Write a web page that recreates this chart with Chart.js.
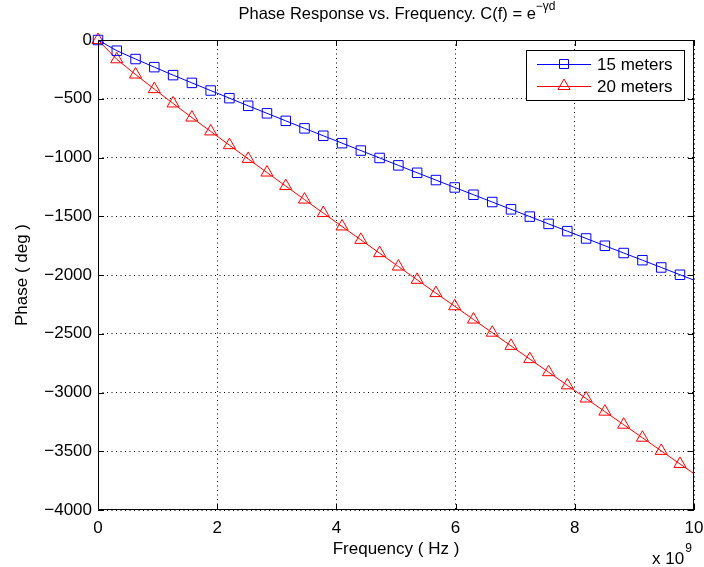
<!DOCTYPE html>
<html lang="en">
<head>
    <meta charset="UTF-8">
    <title>Phase Response vs. Frequency</title>
    <style>
        html, body { margin: 0; padding: 0; background: #fff; }
        #wrap { width: 704px; height: 567px; }
    </style>
    <script src="https://cdn.jsdelivr.net/npm/chart.js"></script>
</head>
<body>
    <div id="wrap"><canvas id="phaseChart" width="704" height="567"></canvas></div>

    <script>
        // frequency in units of 1e9 Hz (marker positions + end of sweep)
        const freq = [0, 0.315, 0.63, 0.945, 1.26, 1.575, 1.89, 2.205, 2.52, 2.835,
            3.15, 3.465, 3.78, 4.095, 4.41, 4.725, 5.04, 5.355, 5.67, 5.985,
            6.3, 6.615, 6.93, 7.245, 7.56, 7.875, 8.19, 8.505, 8.82, 9.135,
            9.45, 9.765, 10];
        const phase15 = [0, -91, -162, -231, -299, -365, -430, -495, -560, -624,
            -688, -752, -815, -878, -941, -1004, -1067, -1130, -1192, -1255,
            -1317, -1379, -1441, -1503, -1565, -1627, -1689, -1751, -1813, -1874,
            -1936, -1998, -2044];
        const phase20 = [0, -164, -294, -418, -540, -660, -778, -895, -1012, -1128,
            -1243, -1358, -1473, -1587, -1701, -1814, -1928, -2041, -2154, -2266,
            -2379, -2491, -2603, -2716, -2827, -2939, -3051, -3163, -3274, -3385,
            -3497, -3608, -3691];
        const seriesNames = ['15 meters', '20 meters'];
        const xTicks = [0, 2, 4, 6, 8, 10];
        const yTicks = [0, -500, -1000, -1500, -2000, -2500, -3000, -3500, -4000];

        const FONT = '"Liberation Sans", Arial, Helvetica, sans-serif';
        const last = freq.length - 1;

        function minus(v) {
            return v < 0 ? '\u2212' + Math.abs(v) : String(v);
        }

        // MATLAB-ish box, inward ticks, title, labels, legend
        const matlabDecor = {
            id: 'matlabDecor',
            afterDraw(chart) {
                const ctx = chart.ctx;
                const a = chart.chartArea;
                const xs = chart.scales.x, ys = chart.scales.y;
                ctx.save();

                // box
                ctx.strokeStyle = '#000';
                ctx.lineWidth = 1;
                ctx.strokeRect(a.left + 0.5, a.top + 0.5, a.right - a.left - 1, a.bottom - a.top - 1);

                // inward ticks on all four sides
                ctx.beginPath();
                xTicks.forEach(t => {
                    const px = Math.round(xs.getPixelForValue(t)) + 0.5;
                    ctx.moveTo(px, a.bottom); ctx.lineTo(px, a.bottom - 6);
                    ctx.moveTo(px, a.top); ctx.lineTo(px, a.top + 6);
                });
                yTicks.forEach(t => {
                    const py = Math.round(ys.getPixelForValue(t)) + 0.5;
                    ctx.moveTo(a.left, py); ctx.lineTo(a.left + 6, py);
                    ctx.moveTo(a.right, py); ctx.lineTo(a.right - 6, py);
                });
                ctx.stroke();

                ctx.fillStyle = '#000';
                ctx.textBaseline = 'middle';

                // title with superscript
                const main = 'Phase Response vs. Frequency. C(f) = e';
                const sup = '\u2212\u03B3d';
                ctx.font = '12px ' + FONT;
                const supW = ctx.measureText(sup).width;
                ctx.font = '16.5px ' + FONT;
                const mainW = ctx.measureText(main).width;
                const tx = 397 - (mainW + supW) / 2;
                ctx.textAlign = 'left';
                ctx.fillText(main, tx, 14);
                ctx.font = '12px ' + FONT;
                ctx.fillText(sup, tx + mainW, 7);

                // axis labels
                ctx.font = '17px ' + FONT;
                ctx.textAlign = 'center';
                ctx.fillText('Frequency ( Hz )', 396, 549);
                ctx.save();
                ctx.translate(22, 275);
                ctx.rotate(-Math.PI / 2);
                ctx.fillText('Phase ( deg )', 0, 0);
                ctx.restore();

                // exponent note
                ctx.textAlign = 'left';
                ctx.font = '17px ' + FONT;
                ctx.fillText('x 10', 652, 559);
                const w10 = ctx.measureText('x 10').width;
                ctx.font = '12px ' + FONT;
                ctx.fillText('9', 652 + w10 + 1, 549);

                // legend
                const lx = 526, ly = 50, lw = 158, lh = 50;
                ctx.fillStyle = '#fff';
                ctx.fillRect(lx, ly, lw, lh);
                ctx.strokeStyle = '#000';
                ctx.lineWidth = 1;
                ctx.strokeRect(lx + 0.5, ly + 0.5, lw, lh);
                const rows = [64, 86];
                chart.data.datasets.forEach((ds, i) => {
                    const y = rows[i];
                    ctx.strokeStyle = ds.borderColor;
                    ctx.lineWidth = 1;
                    ctx.beginPath();
                    ctx.moveTo(537, y + 0.5); ctx.lineTo(591, y + 0.5);
                    ctx.stroke();
                    ctx.beginPath();
                    if (ds.pointStyle === 'rect') {
                        ctx.rect(559.5, y - 4.5, 9, 9);
                    } else {
                        const r = 7;
                        ctx.moveTo(564, y - r);
                        ctx.lineTo(564 + r * 0.866, y + r / 2);
                        ctx.lineTo(564 - r * 0.866, y + r / 2);
                        ctx.closePath();
                    }
                    ctx.stroke();
                    ctx.fillStyle = '#000';
                    ctx.font = '17px ' + FONT;
                    ctx.textAlign = 'left';
                    ctx.fillText(ds.label, 597, y + 1);
                });

                ctx.restore();
            }
        };

        const ctx = document.getElementById('phaseChart').getContext('2d');
        new Chart(ctx, {
            type: 'line',
            data: {
                labels: freq,
                datasets: [{
                    label: seriesNames[0],
                    data: freq.map((f, i) => ({ x: f, y: phase15[i] })),
                    borderColor: '#0000ff',
                    backgroundColor: 'rgba(0,0,0,0)',
                    borderWidth: 1,
                    pointStyle: 'rect',
                    pointRadius: c => c.dataIndex === last ? 0 : 6.7,
                    pointBorderWidth: 1,
                    tension: 0
                }, {
                    label: seriesNames[1],
                    data: freq.map((f, i) => ({ x: f, y: phase20[i] })),
                    borderColor: '#ff0000',
                    backgroundColor: 'rgba(0,0,0,0)',
                    borderWidth: 1,
                    pointStyle: 'triangle',
                    pointRadius: c => c.dataIndex === last ? 0 : 7,
                    pointBorderWidth: 1,
                    tension: 0
                }]
            },
            options: {
                responsive: false,
                animation: false,
                clip: false,
                layout: { padding: { left: 0, right: 10, top: 40, bottom: 0 } },
                plugins: {
                    legend: { display: false },
                    title: { display: false },
                    tooltip: { enabled: false }
                },
                scales: {
                    x: {
                        type: 'linear',
                        min: 0,
                        max: 10,
                        afterFit: s => { s.height = 57; s.paddingLeft = 0; s.paddingRight = 0; },
                        afterBuildTicks: s => { s.ticks = xTicks.map(v => ({ value: v })); },
                        ticks: {
                            padding: 8,
                            color: '#000',
                            font: { family: FONT, size: 17 },
                            maxRotation: 0,
                            callback: v => minus(v)
                        },
                        grid: { color: '#000', lineWidth: 1, drawTicks: false },
                        border: { display: false, dash: [1, 3.5] }
                    },
                    y: {
                        type: 'linear',
                        min: -4000,
                        max: 0,
                        afterFit: s => { s.width = 98; s.paddingTop = 0; s.paddingBottom = 0; },
                        afterBuildTicks: s => { s.ticks = yTicks.map(v => ({ value: v })); },
                        ticks: {
                            padding: 6,
                            color: '#000',
                            font: { family: FONT, size: 17 },
                            callback: v => minus(v)
                        },
                        grid: { color: '#000', lineWidth: 1, drawTicks: false },
                        border: { display: false, dash: [1, 3.5] }
                    }
                }
            },
            plugins: [matlabDecor]
        });
    </script>
</body>
</html>
